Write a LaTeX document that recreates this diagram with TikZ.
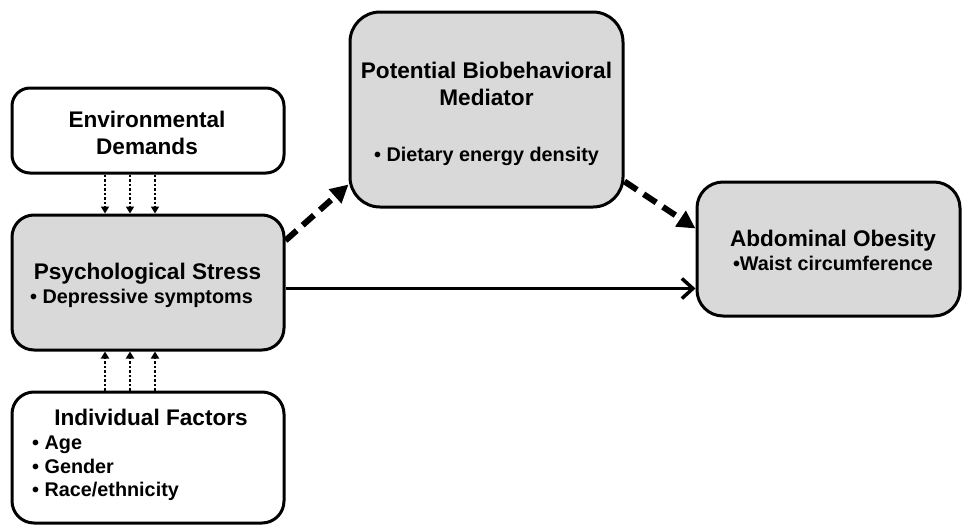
\documentclass[tikz,border=0pt]{standalone}
\usepackage{fontspec}
\setmainfont{Liberation Sans}
\usetikzlibrary{positioning,arrows.meta}
\definecolor{boxgray}{RGB}{217,217,217}

\begin{document}
\begin{tikzpicture}[x=1pt,y=-1pt,
  box/.style={draw, line width=3pt, inner sep=0pt},
  greybox/.style={box, fill=boxgray},
  title/.style={font=\bfseries\fontsize{22.6}{27}\selectfont, align=center, inner sep=0pt},
  item/.style={font=\bfseries\fontsize{19.8}{24}\selectfont, inner sep=0pt},
  dotarrow/.style={line width=2.5pt, dash pattern=on 2.5pt off 2pt, -{Triangle[length=7pt,width=8pt]}},
  dasharrow/.style={line width=6pt, dash pattern=on 15pt off 8pt, -{Triangle[length=18pt,width=18pt]}},
  solidarrow/.style={line width=3.5pt, -{Straight Barb[length=11pt,width=20pt]}}]
  \useasboundingbox (0,0) rectangle (962,525);

  % Boxes
  \node[box, rounded corners=18pt, minimum width=272pt, minimum height=85pt] (env) at (148,130.5) {};
  \node[greybox, rounded corners=22pt, minimum width=272pt, minimum height=135pt] (stress) at (148,282.5) {};
  \node[box, rounded corners=22pt, minimum width=272pt, minimum height=131pt] (indiv) at (148,457.5) {};
  \node[greybox, rounded corners=30pt, minimum width=273pt, minimum height=195pt] (mediator) at (486.5,109.5) {};
  \node[greybox, rounded corners=26pt, minimum width=263pt, minimum height=134pt] (obesity) at (828.5,249) {};

  % Texts
  \node[title, anchor=base] (envtitle) at (147,154) {Environmental\\Demands};
  \node[title, anchor=base] (stresstitle) at (147.5,279) {Psychological Stress};
  \node[item, anchor=base west] (stressitem) at (30,303) {• Depressive symptoms};
  \node[title, anchor=base] (indivtitle) at (151,425) {Individual Factors};
  \node[item, anchor=base west] (age) at (32,449) {• Age};
  \node[item, anchor=base west] (gender) at (32,473) {• Gender};
  \node[item, anchor=base west] (race) at (32,496) {• Race/ethnicity};
  \node[title, anchor=base] (medtitle) at (486.5,105) {Potential Biobehavioral\\Mediator};
  \node[item, anchor=base] (meditem) at (486.5,161) {• Dietary energy density};
  \node[title, anchor=base] (obtitle) at (833,246) {Abdominal Obesity};
  \node[item, anchor=base] (obitem) at (833,270) {•Waist circumference};

  % Arrows
  \foreach \dx in {-43,-18,7} {
    \draw[dotarrow] ([xshift=\dx pt]env.south) -- ([xshift=\dx pt]stress.north);
    \draw[dotarrow] ([xshift=\dx pt]indiv.north) -- ([xshift=\dx pt]stress.south);
  }
  \draw[dasharrow] ([yshift=-27pt]stress.north east) -- ([yshift=24pt]mediator.south west);
  \draw[dasharrow] ([yshift=27pt]mediator.south east) -- ([yshift=-48pt]obesity.north west);
  \coordinate (solidstart) at ([yshift=-6pt]stress.east);
  \draw[solidarrow] (solidstart) -- (solidstart -| obesity.west);
\end{tikzpicture}
\end{document}
